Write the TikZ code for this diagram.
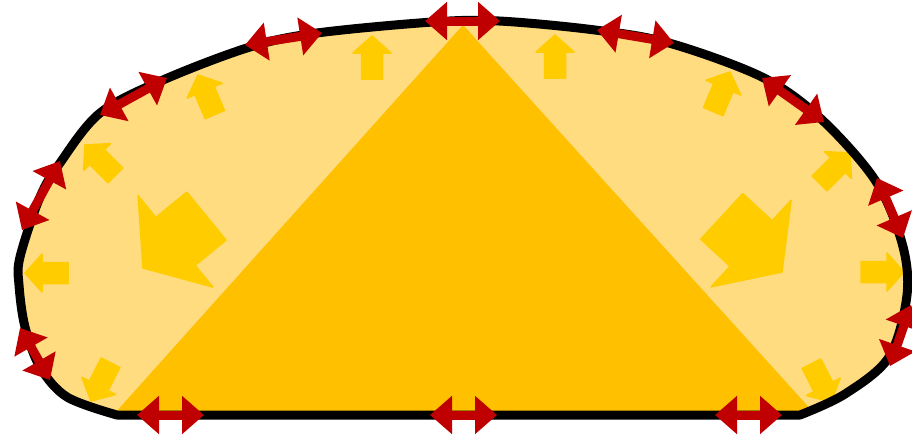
\documentclass[tikz,border=0pt]{standalone}
\usetikzlibrary{arrows.meta}
\definecolor{lightfill}{RGB}{255,220,127}
\definecolor{tricol}{RGB}{255,192,0}
\definecolor{arrcol}{RGB}{255,204,0}
\definecolor{redcol}{RGB}{192,0,0}
\tikzset{
  blob/.style={fill=lightfill},
  outline/.style={draw=black, line width=9pt, line join=round},
  tri/.style={fill=tricol},
  yarr/.style={fill=arrcol, draw=arrcol, line width=1.5pt, line join=round},
  redarr/.style={draw=redcol, line width=9pt,
    {Triangle[length=22pt,width=37pt]}-{Triangle[length=22pt,width=37pt]}},
}
% small block arrow: tip position, direction angle
\newcommand{\smallarrow}[2]{%
  \fill[yarr, shift={#1}, rotate=#2]
    (0,0) -- (-17,-19) -- (-17,-10.5) -- (-43,-10.5) -- (-43,10.5) -- (-17,10.5) -- (-17,19) -- cycle;}
\newcommand{\bigarrow}[2]{%
  \fill[yarr, shift={#1}, rotate=#2]
    (0,0) -- (-42,-59) -- (-42,-31) -- (-82,-31) -- (-82,31) -- (-42,31) -- (-42,59) -- cycle;}
\begin{document}
\begin{tikzpicture}[x=1pt,y=-1pt]
\useasboundingbox (0,0) rectangle (912,437);
% blob shape
\def\blobpath{plot[smooth,tension=0.55] coordinates {
  (800,415) (845,394) (889,357) (907,295) (902,243) (875,180) (819,117)
  (762,77) (669,43) (595,30) (499,21) (433,22) (317,33) (250,47) (163,80)
  (100,113) (60,163) (40,197) (20,257) (19,285) (25,327) (40,367) (67,397) (117,415)} -- cycle}
\fill[blob] \blobpath;
% triangle
\coordinate (tA) at (115,413);
\coordinate (tB) at (463,25);
\coordinate (tC) at (814,413);
\fill[tri] (tA) -- (tB) -- (tC) -- cycle;
% yellow block arrows
\smallarrow{(372,36)}{90}
\smallarrow{(555,35)}{90}
\smallarrow{(198,75)}{113}
\smallarrow{(730,72)}{67}
\smallarrow{(85,145)}{135}
\smallarrow{(850,153)}{45}
\smallarrow{(25,273)}{180}
\smallarrow{(904,272)}{0}
\smallarrow{(91,401)}{243}
\smallarrow{(831,402)}{297}
\bigarrow{(143,268)}{219.3}
\bigarrow{(782,272)}{-42.7}
% outline
\draw[outline] \blobpath;
% red tangent arrows
\coordinate (r1a) at (425,21);  \coordinate (r1b) at (500,21);
\coordinate (r2a) at (245,45);  \coordinate (r2b) at (322,33);
\coordinate (r3a) at (100,115); \coordinate (r3b) at (167,78);
\coordinate (r4a) at (22,230);  \coordinate (r4b) at (60,161);
\coordinate (r5a) at (20,328);  \coordinate (r5b) at (50,380);
\coordinate (r6a) at (137,415); \coordinate (r6b) at (204,415);
\coordinate (r7a) at (430,415); \coordinate (r7b) at (497,415);
\coordinate (r8a) at (715,415); \coordinate (r8b) at (782,415);
\coordinate (r9a) at (890,366); \coordinate (r9b) at (911,305);
\coordinate (r10a) at (877,178); \coordinate (r10b) at (903,238);
\coordinate (r11a) at (762,78); \coordinate (r11b) at (824,122);
\coordinate (r12a) at (597,30); \coordinate (r12b) at (674,43);
\foreach \i in {1,...,12} {\draw[redarr] (r\i a) -- (r\i b);}
\end{tikzpicture}
\end{document}
